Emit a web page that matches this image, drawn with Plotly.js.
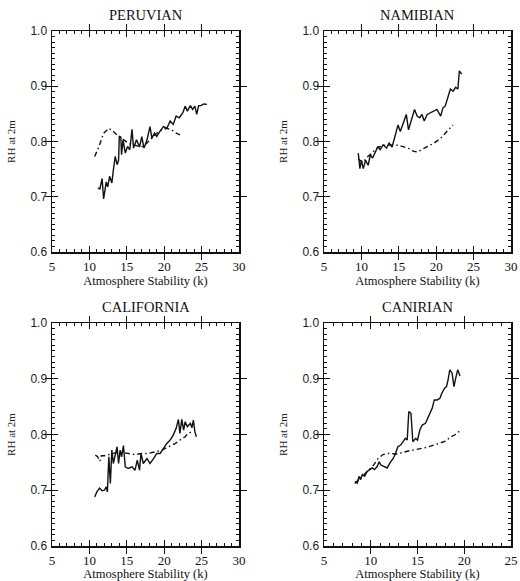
<!DOCTYPE html>
<html>
<head>
<meta charset="utf-8">
<script src="https://cdn.plot.ly/plotly-3.0.1.min.js"></script>
<style>
html,body{margin:0;padding:0;background:#fff;}
#chart{width:520px;height:581px;}
</style>
</head>
<body>
<div id="chart"></div>
<script>
// ---------- data ----------
var panelTitles = ["PERUVIAN", "NAMIBIAN", "CALIFORNIA", "CANIRIAN"];
var xTitle = "Atmosphere Stability (k)";
var yTitle = "RH at 2m";

var peruSolidX = [11.14,11.4,11.7,11.9,12.25,12.45,12.7,13.0,13.2,13.45,13.7,13.9,14.0,14.2,14.3,14.5,14.8,15.1,15.4,15.7,15.9,16.3,16.7,17.0,17.3,17.7,18.1,18.35,18.7,19.0,19.4,19.9,20.35,20.8,21.2,21.6,22.0,22.5,22.8,23.1,23.5,23.8,24.1,24.35,24.6,24.9,25.3,25.7];
var peruSolidY = [0.716,0.714,0.733,0.696,0.727,0.718,0.737,0.725,0.748,0.773,0.758,0.766,0.810,0.808,0.776,0.803,0.779,0.791,0.785,0.822,0.788,0.803,0.790,0.809,0.788,0.803,0.827,0.806,0.815,0.809,0.818,0.827,0.824,0.837,0.831,0.846,0.843,0.852,0.864,0.855,0.865,0.858,0.864,0.849,0.865,0.865,0.868,0.867];
var peruDashX = [10.7,11.2,11.9,12.6,13.2,13.9,14.6,15.2,15.9,16.6,17.2,17.7,18.35,19.0,19.7,20.35,21.0,21.5,22.1];
var peruDashY = [0.773,0.788,0.815,0.824,0.818,0.809,0.803,0.797,0.794,0.791,0.791,0.797,0.806,0.815,0.821,0.824,0.821,0.816,0.812];

var namSolidX = [9.58,9.8,10.0,10.25,10.56,10.9,11.2,11.5,11.9,12.2,12.5,12.9,13.36,13.7,14.1,14.6,14.9,15.2,15.7,16.0,16.3,16.65,17.1,17.45,17.8,18.1,18.4,18.8,19.2,19.7,20.1,20.6,20.9,21.2,21.5,21.9,22.25,22.6,22.9,23.1,23.4];
var namSolidY = [0.779,0.751,0.766,0.751,0.766,0.757,0.776,0.770,0.782,0.791,0.785,0.794,0.788,0.797,0.790,0.815,0.830,0.818,0.837,0.849,0.821,0.837,0.858,0.846,0.843,0.849,0.837,0.849,0.852,0.855,0.858,0.846,0.861,0.864,0.876,0.895,0.891,0.898,0.895,0.928,0.922];
var namDashX = [9.6,10.2,10.8,11.5,12.2,12.9,13.6,14.3,15.0,15.7,16.4,17.0,17.5,18.0,18.8,19.7,20.6,21.2,21.6,21.9,22.25];
var namDashY = [0.768,0.762,0.772,0.781,0.789,0.793,0.794,0.794,0.793,0.790,0.787,0.782,0.781,0.785,0.791,0.797,0.806,0.815,0.820,0.824,0.830];

var calSolidX = [10.7,11.0,11.36,11.7,12.0,12.25,12.4,12.5,12.6,12.8,13.0,13.2,13.45,13.7,13.9,14.1,14.3,14.55,14.8,15.2,15.7,16.1,16.4,16.7,16.9,17.2,17.7,18.1,18.6,19.0,19.45,19.9,20.35,20.8,21.2,21.6,21.9,22.1,22.35,22.6,22.8,23.1,23.5,23.7,23.9,24.1,24.3];
var calSolidY = [0.688,0.697,0.704,0.699,0.700,0.706,0.697,0.748,0.760,0.712,0.772,0.748,0.766,0.778,0.748,0.772,0.760,0.780,0.742,0.739,0.742,0.736,0.754,0.736,0.766,0.748,0.757,0.748,0.757,0.766,0.766,0.775,0.784,0.790,0.799,0.811,0.827,0.802,0.827,0.808,0.823,0.814,0.820,0.812,0.826,0.805,0.796];
var calDashX = [10.8,11.1,11.4,11.6,12.0,12.6,13.45,14.3,15.2,16.1,17.0,17.9,18.8,19.7,20.6,21.5,22.1,22.8,23.2,23.7];
var calDashY = [0.763,0.760,0.752,0.762,0.762,0.764,0.767,0.768,0.766,0.764,0.766,0.766,0.769,0.772,0.778,0.784,0.790,0.796,0.802,0.805];

var canSolidX = [8.31,8.56,8.74,8.9,9.1,9.35,9.63,9.9,10.16,10.4,10.7,10.9,11.1,11.4,11.76,12.05,12.4,12.65,12.9,13.2,13.47,13.7,13.9,14.07,14.3,14.5,14.8,15.0,15.25,15.5,15.85,16.2,16.57,16.8,17.1,17.4,17.6,17.9,18.1,18.27,18.45,18.7,18.9,19.1,19.3,19.55];
var canSolidY = [0.716,0.713,0.725,0.719,0.728,0.725,0.734,0.737,0.740,0.737,0.743,0.751,0.745,0.743,0.740,0.749,0.757,0.766,0.778,0.781,0.787,0.793,0.790,0.841,0.838,0.787,0.793,0.790,0.808,0.817,0.820,0.832,0.847,0.862,0.862,0.865,0.874,0.883,0.886,0.898,0.916,0.910,0.886,0.902,0.916,0.905];
var canDashX = [8.3,8.8,9.3,9.8,10.3,10.8,11.3,11.76,12.3,12.8,13.9,14.96,16.0,17.1,18.0,18.5,19.05,19.5];
var canDashY = [0.712,0.720,0.728,0.736,0.745,0.757,0.764,0.766,0.765,0.765,0.770,0.774,0.777,0.783,0.788,0.795,0.800,0.806];

var xRanges = [[5,30],[5,30],[5,30],[5,25]];
var yRange = [0.6,1.0];
var yTickVals = [0.6,0.7,0.8,0.9,1.0];
var yTickText = ["0.6","0.7","0.8","0.9","1.0"];

// ---------- build ----------
var W = 520, H = 581;
var colDom = [[52/W, 239/W],[324/W, 511/W]];
var rowDom = [[1-252/H, 1-31/H],[1-546/H, 1-323/H]];

var solidSets = [[peruSolidX,peruSolidY],[namSolidX,namSolidY],[calSolidX,calSolidY],[canSolidX,canSolidY]];
var dashSets = [[peruDashX,peruDashY],[namDashX,namDashY],[calDashX,calDashY],[canDashX,canDashY]];

var traces = [];
var layout = {
  width: W, height: H, autosize: false,
  margin: {l:0, r:0, t:0, b:0},
  paper_bgcolor: '#fff', plot_bgcolor: '#fff',
  showlegend: false,
  annotations: []
};

var ink = '#111';
for (var i = 0; i < 4; i++) {
  var sfx = i === 0 ? '' : String(i+1);
  var mx = String(i+5);            // overlay axes carrying minor ticks
  var xa = 'x' + sfx, ya = 'y' + sfx;
  var col = i % 2, row = Math.floor(i / 2);

  traces.push({x: dashSets[i][0], y: dashSets[i][1], xaxis: xa, yaxis: ya, mode: 'lines',
    line: {color: ink, width: 1.4, dash: '5px,3px,1.5px,3px'}, hoverinfo: 'skip'});
  traces.push({x: solidSets[i][0], y: solidSets[i][1], xaxis: xa, yaxis: ya, mode: 'lines',
    line: {color: ink, width: 1.4}, hoverinfo: 'skip'});
  // empty traces that bring the minor-tick overlay axes to life
  traces.push({x: [], y: [], xaxis: 'x' + mx, yaxis: ya, mode: 'lines', hoverinfo: 'skip'});
  traces.push({x: [], y: [], xaxis: xa, yaxis: 'y' + mx, mode: 'lines', hoverinfo: 'skip'});

  layout['xaxis' + sfx] = {
    domain: colDom[col], anchor: ya, range: xRanges[i], dtick: 5, tick0: 5,
    showgrid: false, zeroline: false, showline: true, linecolor: ink, linewidth: 1.5,
    mirror: 'allticks', ticks: 'inside', ticklen: 6, tickwidth: 1, tickcolor: ink,
    tickfont: {family: 'Liberation Serif', size: 13, color: ink},
    ticklabelstandoff: 2,
    title: {text: xTitle, font: {family: 'Liberation Serif', size: 12.5, color: ink}, standoff: 2}
  };
  layout['yaxis' + sfx] = {
    domain: rowDom[row], anchor: xa, range: yRange, tickvals: yTickVals, ticktext: yTickText,
    showgrid: false, zeroline: false, showline: true, linecolor: ink, linewidth: 1.5,
    mirror: 'allticks', ticks: 'inside', ticklen: 6, tickwidth: 1, tickcolor: ink,
    tickfont: {family: 'Liberation Sans', size: 12, color: '#222'},
    ticklabelstandoff: 1,
    title: {text: yTitle, font: {family: 'Liberation Serif', size: 11, color: '#222'}, standoff: 12}
  };
  layout['xaxis' + mx] = {
    overlaying: xa, anchor: ya, side: 'bottom', range: xRanges[i], tickmode: 'linear', tick0: 5, dtick: 1,
    showgrid: false, zeroline: false, showline: false, showticklabels: false,
    mirror: 'ticks', ticks: 'inside', ticklen: 3, tickwidth: 1, tickcolor: ink
  };
  layout['yaxis' + mx] = {
    overlaying: ya, anchor: xa, side: 'left', range: yRange, tickmode: 'linear', tick0: 0.6, dtick: 0.01,
    showgrid: false, zeroline: false, showline: false, showticklabels: false,
    mirror: 'ticks', ticks: 'inside', ticklen: 3, tickwidth: 1, tickcolor: ink
  };
  layout.annotations.push({
    text: panelTitles[i], showarrow: false, xref: 'paper', yref: 'paper',
    x: (colDom[col][0] + colDom[col][1]) / 2, y: row === 0 ? 1 - 15/H : 1 - 307/H,
    xanchor: 'center', yanchor: 'middle',
    font: {family: 'Liberation Serif', size: 14.5, color: ink}
  });
}

Plotly.newPlot('chart', traces, layout, {staticPlot: true, displayModeBar: false});
</script>
</body>
</html>
